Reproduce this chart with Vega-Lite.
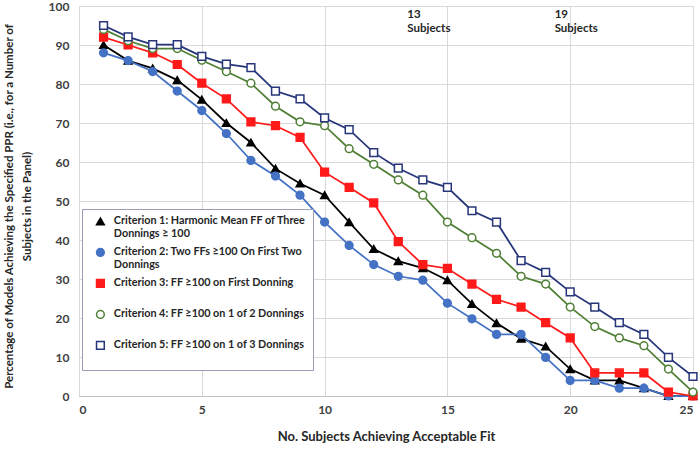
{
  "$schema": "https://vega.github.io/schema/vega-lite/v6.json",
  "width": 614,
  "height": 390,
  "autosize": {"type": "none"},
  "padding": {"left": 79, "top": 6, "right": 7, "bottom": 54},
  "background": "white",
  "config": {
    "view": {"stroke": null},
    "font": "Lato",
    "axis": {
      "labelFont": "Lato", "labelFontWeight": "bold", "labelFontSize": 12, "labelColor": "#404040",
      "titleFont": "Lato", "titleFontWeight": "bold", "titleFontSize": 13, "titleColor": "#262626",
      "gridColor": "#d9d9d9", "gridWidth": 1, "ticks": false
    },
    "legend": {
      "padding": 7,
      "rowPadding": 6,
      "strokeColor": "#9b9db8",
      "fillColor": "#ffffff",
      "symbolSize": 60,
      "symbolStrokeWidth": 1.5,
      "symbolOffset": 6,
      "labelOffset": 8,
      "labelFont": "Lato",
      "labelFontWeight": "bold",
      "labelFontSize": 10.8,
      "labelColor": "#262626",
      "labelLimit": 400
    }
  },
  "data": {
    "values": [
      {"x":1,"v":90,"c":"Criterion 1"},{"x":2,"v":86,"c":"Criterion 1"},{"x":3,"v":84,"c":"Criterion 1"},{"x":4,"v":81,"c":"Criterion 1"},{"x":5,"v":76,"c":"Criterion 1"},
      {"x":6,"v":70,"c":"Criterion 1"},{"x":7,"v":65,"c":"Criterion 1"},{"x":8,"v":58.3,"c":"Criterion 1"},{"x":9,"v":54.5,"c":"Criterion 1"},{"x":10,"v":51.5,"c":"Criterion 1"},
      {"x":11,"v":44.6,"c":"Criterion 1"},{"x":12,"v":37.7,"c":"Criterion 1"},{"x":13,"v":34.6,"c":"Criterion 1"},{"x":14,"v":32.8,"c":"Criterion 1"},{"x":15,"v":29.7,"c":"Criterion 1"},
      {"x":16,"v":23.6,"c":"Criterion 1"},{"x":17,"v":18.7,"c":"Criterion 1"},{"x":18,"v":14.7,"c":"Criterion 1"},{"x":19,"v":12.7,"c":"Criterion 1"},{"x":20,"v":6.9,"c":"Criterion 1"},
      {"x":21,"v":4,"c":"Criterion 1"},{"x":22,"v":4,"c":"Criterion 1"},{"x":23,"v":2,"c":"Criterion 1"},{"x":24,"v":0,"c":"Criterion 1"},{"x":25,"v":0,"c":"Criterion 1"},

      {"x":1,"v":88,"c":"Criterion 2"},{"x":2,"v":86,"c":"Criterion 2"},{"x":3,"v":83.2,"c":"Criterion 2"},{"x":4,"v":78.2,"c":"Criterion 2"},{"x":5,"v":73.2,"c":"Criterion 2"},
      {"x":6,"v":67.3,"c":"Criterion 2"},{"x":7,"v":60.4,"c":"Criterion 2"},{"x":8,"v":56.4,"c":"Criterion 2"},{"x":9,"v":51.5,"c":"Criterion 2"},{"x":10,"v":44.6,"c":"Criterion 2"},
      {"x":11,"v":38.6,"c":"Criterion 2"},{"x":12,"v":33.7,"c":"Criterion 2"},{"x":13,"v":30.7,"c":"Criterion 2"},{"x":14,"v":29.7,"c":"Criterion 2"},{"x":15,"v":23.8,"c":"Criterion 2"},
      {"x":16,"v":19.8,"c":"Criterion 2"},{"x":17,"v":15.8,"c":"Criterion 2"},{"x":18,"v":15.8,"c":"Criterion 2"},{"x":19,"v":9.9,"c":"Criterion 2"},{"x":20,"v":4,"c":"Criterion 2"},
      {"x":21,"v":4,"c":"Criterion 2"},{"x":22,"v":2,"c":"Criterion 2"},{"x":23,"v":2,"c":"Criterion 2"},{"x":24,"v":0,"c":"Criterion 2"},{"x":25,"v":0,"c":"Criterion 2"},

      {"x":1,"v":92,"c":"Criterion 3"},{"x":2,"v":90,"c":"Criterion 3"},{"x":3,"v":88,"c":"Criterion 3"},{"x":4,"v":85,"c":"Criterion 3"},{"x":5,"v":80.2,"c":"Criterion 3"},
      {"x":6,"v":76.2,"c":"Criterion 3"},{"x":7,"v":70.3,"c":"Criterion 3"},{"x":8,"v":69.3,"c":"Criterion 3"},{"x":9,"v":66.3,"c":"Criterion 3"},{"x":10,"v":57.4,"c":"Criterion 3"},
      {"x":11,"v":53.5,"c":"Criterion 3"},{"x":12,"v":49.5,"c":"Criterion 3"},{"x":13,"v":39.6,"c":"Criterion 3"},{"x":14,"v":33.7,"c":"Criterion 3"},{"x":15,"v":32.7,"c":"Criterion 3"},
      {"x":16,"v":28.7,"c":"Criterion 3"},{"x":17,"v":24.8,"c":"Criterion 3"},{"x":18,"v":22.8,"c":"Criterion 3"},{"x":19,"v":18.8,"c":"Criterion 3"},{"x":20,"v":14.9,"c":"Criterion 3"},
      {"x":21,"v":5.9,"c":"Criterion 3"},{"x":22,"v":5.9,"c":"Criterion 3"},{"x":23,"v":5.9,"c":"Criterion 3"},{"x":24,"v":1,"c":"Criterion 3"},{"x":25,"v":0,"c":"Criterion 3"},

      {"x":1,"v":94,"c":"Criterion 4"},{"x":2,"v":91.1,"c":"Criterion 4"},{"x":3,"v":89.1,"c":"Criterion 4"},{"x":4,"v":89.1,"c":"Criterion 4"},{"x":5,"v":86.1,"c":"Criterion 4"},
      {"x":6,"v":83.2,"c":"Criterion 4"},{"x":7,"v":80.2,"c":"Criterion 4"},{"x":8,"v":74.3,"c":"Criterion 4"},{"x":9,"v":70.3,"c":"Criterion 4"},{"x":10,"v":69.3,"c":"Criterion 4"},
      {"x":11,"v":63.4,"c":"Criterion 4"},{"x":12,"v":59.4,"c":"Criterion 4"},{"x":13,"v":55.4,"c":"Criterion 4"},{"x":14,"v":51.5,"c":"Criterion 4"},{"x":15,"v":44.6,"c":"Criterion 4"},
      {"x":16,"v":40.6,"c":"Criterion 4"},{"x":17,"v":36.6,"c":"Criterion 4"},{"x":18,"v":30.7,"c":"Criterion 4"},{"x":19,"v":28.7,"c":"Criterion 4"},{"x":20,"v":22.8,"c":"Criterion 4"},
      {"x":21,"v":17.8,"c":"Criterion 4"},{"x":22,"v":14.9,"c":"Criterion 4"},{"x":23,"v":12.9,"c":"Criterion 4"},{"x":24,"v":6.9,"c":"Criterion 4"},{"x":25,"v":1,"c":"Criterion 4"},

      {"x":1,"v":95,"c":"Criterion 5"},{"x":2,"v":92.1,"c":"Criterion 5"},{"x":3,"v":90.1,"c":"Criterion 5"},{"x":4,"v":90.1,"c":"Criterion 5"},{"x":5,"v":87.1,"c":"Criterion 5"},
      {"x":6,"v":85.1,"c":"Criterion 5"},{"x":7,"v":84.2,"c":"Criterion 5"},{"x":8,"v":78.2,"c":"Criterion 5"},{"x":9,"v":76.2,"c":"Criterion 5"},{"x":10,"v":71.3,"c":"Criterion 5"},
      {"x":11,"v":68.3,"c":"Criterion 5"},{"x":12,"v":62.4,"c":"Criterion 5"},{"x":13,"v":58.4,"c":"Criterion 5"},{"x":14,"v":55.4,"c":"Criterion 5"},{"x":15,"v":53.5,"c":"Criterion 5"},
      {"x":16,"v":47.5,"c":"Criterion 5"},{"x":17,"v":44.6,"c":"Criterion 5"},{"x":18,"v":34.7,"c":"Criterion 5"},{"x":19,"v":31.7,"c":"Criterion 5"},{"x":20,"v":26.7,"c":"Criterion 5"},
      {"x":21,"v":22.8,"c":"Criterion 5"},{"x":22,"v":18.8,"c":"Criterion 5"},{"x":23,"v":15.8,"c":"Criterion 5"},{"x":24,"v":9.9,"c":"Criterion 5"},{"x":25,"v":5,"c":"Criterion 5"}
    ]
  },
  "layer": [
    {
      "data": {"values": [{"x": 13, "t": "13 Subjects"}, {"x": 19, "t": "19 Subjects"}]},
      "mark": {"type": "rule", "color": "#7f7f7f", "strokeDash": [4, 3], "strokeWidth": 1},
      "encoding": {
        "x": {"field": "x", "type": "quantitative"},
        "y": {"datum": 0, "type": "quantitative"},
        "y2": {"datum": 100}
      }
    },
    {
      "data": {"values": [{"x": 13, "y": 99.2, "t": "13 Subjects"}, {"x": 19, "y": 99.2, "t": "19 Subjects"}]},
      "mark": {"type": "text", "align": "left", "baseline": "top", "dx": 9, "lineBreak": " ", "lineHeight": 14, "font": "Lato", "fontWeight": "bold", "fontSize": 11.5, "color": "#262626"},
      "encoding": {
        "x": {"field": "x", "type": "quantitative"},
        "y": {"field": "y", "type": "quantitative"},
        "text": {"field": "t"}
      }
    },
    {
      "mark": {"type": "line", "strokeWidth": 1.75},
      "encoding": {
        "x": {"field": "x", "type": "quantitative"},
        "y": {"field": "v", "type": "quantitative"},
        "color": {"field": "c", "type": "nominal",
          "scale": {"domain": ["Criterion 1","Criterion 2","Criterion 3","Criterion 4","Criterion 5"], "range": ["#000000","#4472C4","#FF1A1A","#4F7F35","#27367A"]},
          "legend": {"title": null, "orient": "none", "legendX": 3, "legendY": 203,
            "labelExpr": "datum.label == 'Criterion 1' ? ['Criterion 1: Harmonic Mean FF of Three', 'Donnings ≥ 100'] : datum.label == 'Criterion 2' ? ['Criterion 2: Two FFs ≥100 On First Two', 'Donnings'] : datum.label == 'Criterion 3' ? ['Criterion 3: FF ≥100 on First Donning', ''] : datum.label == 'Criterion 4' ? ['Criterion 4: FF ≥100 on 1 of 2 Donnings', ''] : ['Criterion 5: FF ≥100 on 1 of 3 Donnings', '']"}}
      }
    },
    {
      "mark": {"type": "point", "filled": false, "strokeWidth": 1.5, "size": 60, "opacity": 1},
      "encoding": {
        "x": {"field": "x", "type": "quantitative"},
        "y": {"field": "v", "type": "quantitative"},
        "color": {"field": "c", "type": "nominal",
          "scale": {"domain": ["Criterion 1","Criterion 2","Criterion 3","Criterion 4","Criterion 5"], "range": ["#000000","#4472C4","#FF1A1A","#4F7F35","#27367A"]},
          "legend": {"title": null, "orient": "none", "legendX": 3, "legendY": 203,
            "labelExpr": "datum.label == 'Criterion 1' ? ['Criterion 1: Harmonic Mean FF of Three', 'Donnings ≥ 100'] : datum.label == 'Criterion 2' ? ['Criterion 2: Two FFs ≥100 On First Two', 'Donnings'] : datum.label == 'Criterion 3' ? ['Criterion 3: FF ≥100 on First Donning', ''] : datum.label == 'Criterion 4' ? ['Criterion 4: FF ≥100 on 1 of 2 Donnings', ''] : ['Criterion 5: FF ≥100 on 1 of 3 Donnings', '']"}},
        "fill": {"field": "c", "type": "nominal",
          "scale": {"domain": ["Criterion 1","Criterion 2","Criterion 3","Criterion 4","Criterion 5"], "range": ["#000000","#4472C4","#FF1A1A","#ffffff","#ffffff"]},
          "legend": {"title": null, "orient": "none", "legendX": 3, "legendY": 203,
            "labelExpr": "datum.label == 'Criterion 1' ? ['Criterion 1: Harmonic Mean FF of Three', 'Donnings ≥ 100'] : datum.label == 'Criterion 2' ? ['Criterion 2: Two FFs ≥100 On First Two', 'Donnings'] : datum.label == 'Criterion 3' ? ['Criterion 3: FF ≥100 on First Donning', ''] : datum.label == 'Criterion 4' ? ['Criterion 4: FF ≥100 on 1 of 2 Donnings', ''] : ['Criterion 5: FF ≥100 on 1 of 3 Donnings', '']"}},
        "shape": {"field": "c", "type": "nominal",
          "scale": {"domain": ["Criterion 1","Criterion 2","Criterion 3","Criterion 4","Criterion 5"], "range": ["triangle-up","circle","square","circle","square"]},
          "legend": {"title": null, "orient": "none", "legendX": 3, "legendY": 203,
            "labelExpr": "datum.label == 'Criterion 1' ? ['Criterion 1: Harmonic Mean FF of Three', 'Donnings ≥ 100'] : datum.label == 'Criterion 2' ? ['Criterion 2: Two FFs ≥100 On First Two', 'Donnings'] : datum.label == 'Criterion 3' ? ['Criterion 3: FF ≥100 on First Donning', ''] : datum.label == 'Criterion 4' ? ['Criterion 4: FF ≥100 on 1 of 2 Donnings', ''] : ['Criterion 5: FF ≥100 on 1 of 3 Donnings', '']"}}
      }
    }
  ],
  "encoding": {
    "x": {
      "field": "x", "type": "quantitative",
      "scale": {"domain": [0, 25], "nice": false},
      "axis": {"values": [0, 5, 10, 15, 20, 25], "title": "No. Subjects Achieving Acceptable Fit", "labelPadding": 8, "titleY": 40, "titleBaseline": "middle", "domain": true, "domainColor": "#bfbfbf"}
    },
    "y": {
      "field": "v", "type": "quantitative",
      "scale": {"domain": [0, 100], "nice": false},
      "axis": {"values": [0,10,20,30,40,50,60,70,80,90,100], "title": ["Percentage of Models Achieving the Specified PPR (i.e., for a Number of", "Subjects in the Panel)"], "titleFontSize": 11.5, "titleX": -76, "titleY": 200, "titleBaseline": "top", "titleLineHeight": 18, "labelPadding": 10, "domain": false}
    }
  }
}
